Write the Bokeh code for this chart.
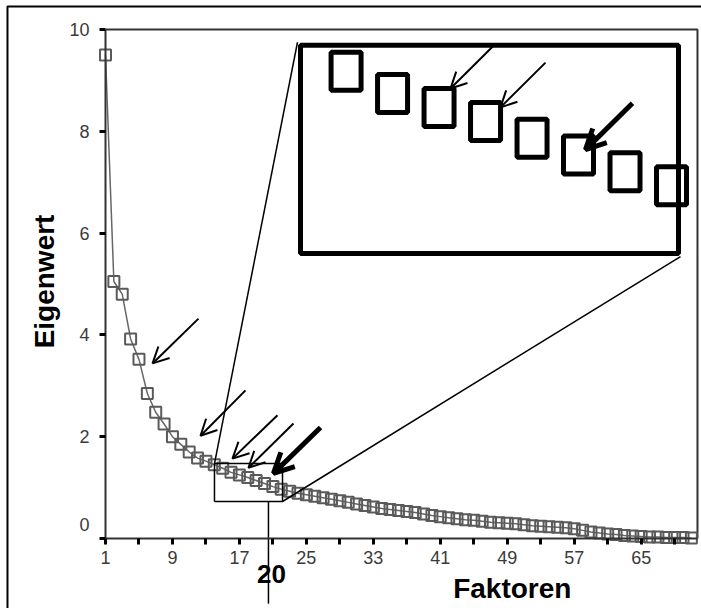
import math
from bokeh.plotting import figure
from bokeh.models import Range1d, FixedTicker, Label, Arrow, OpenHead, ColumnDataSource
from bokeh.core.properties import value
from bokeh.embed import file_html
from bokeh.resources import INLINE

# ---------------- data ----------------
FACTORS = list(range(1, 72))
EIGEN = [9.50, 5.05, 4.80, 3.92, 3.52, 2.85, 2.48, 2.25, 2.00, 1.85,
         1.70, 1.58, 1.52, 1.45, 1.38, 1.30, 1.25, 1.20, 1.14, 1.08,
         1.02, 0.97, 0.93, 0.89, 0.86, 0.83, 0.80, 0.77, 0.74, 0.71,
         0.68, 0.65, 0.62, 0.59, 0.57, 0.55, 0.53, 0.51, 0.48, 0.45,
         0.43, 0.41, 0.39, 0.37, 0.36, 0.34, 0.32, 0.31, 0.30, 0.29,
         0.27, 0.25, 0.24, 0.23, 0.22, 0.21, 0.19, 0.16, 0.13, 0.11,
         0.09, 0.08, 0.06, 0.05, 0.04, 0.03, 0.03, 0.02, 0.02, 0.02, 0.01]
X_TICKS = [1, 9, 17, 25, 33, 41, 49, 57, 65]
X_MINOR = [5, 13, 21, 29, 37, 45, 53, 61, 69]
Y_TICKS = [0, 2, 4, 6, 8, 10]

# zoom window (data units) and inset rectangle (data units)
ZOOM_BOX = (14.02, 22.15, 0.727, 1.473)     # x0, x1, y0, y1
INSET_BOX = (24.30, 69.46, 5.60, 9.69)      # x0, x1, y0, y1
MARK_X = 20.47                              # vertical marker line at "20"

# arrows: (x_tail, y_tail, x_head, y_head, thick)
ARROWS = [
    (12.11, 4.32, 6.62, 3.44, False),
    (17.73, 2.91, 12.35, 2.02, False),
    (21.55, 2.42, 16.17, 1.57, False),
    (23.46, 2.26, 18.08, 1.39, False),
    (26.69, 2.18, 21.07, 1.28, True),
    (47.60, 9.72, 42.22, 8.84, False),
    (53.57, 9.35, 48.19, 8.47, False),
    (63.96, 8.55, 58.35, 7.64, True),
]

FONT = "Liberation Sans"

# ---------------- figure ----------------
p = figure(width=701, height=608,
           x_range=Range1d(-11.545, 72.21), y_range=Range1d(-1.375, 10.57),
           output_backend="svg", toolbar_location=None, min_border=0,
           outline_line_color=None, background_fill_color="white",
           border_fill_color="white")
p.grid.visible = False

xa = p.xaxis[0]
xa.fixed_location = 0
xa.bounds = (1, 71.73)
xa.ticker = FixedTicker(ticks=X_TICKS, minor_ticks=X_MINOR)
ya = p.yaxis[0]
ya.fixed_location = 1
ya.bounds = (0, 10)
ya.ticker = FixedTicker(ticks=Y_TICKS)
ya.major_label_overrides = {0: ""}
for ax in (xa, ya):
    ax.axis_line_color = "#333333"
    ax.axis_line_width = 2
    ax.major_tick_line_color = "black"
    ax.major_tick_line_width = 3
    ax.major_tick_out = 6
    ax.major_tick_in = 0
    ax.minor_tick_line_color = "black"
    ax.minor_tick_line_width = 3
    ax.minor_tick_out = 6
    ax.minor_tick_in = 0
    ax.major_label_text_font = FONT
    ax.major_label_text_font_size = "18px"
    ax.major_label_text_color = "#3a3a3a"
xa.major_label_standoff = 6
ya.major_label_standoff = 10
ya.minor_tick_line_color = None

# outer border (left and top visible)
p.line([-10.71, -10.71, 75], [-2, 10.45, 10.45], line_color="black", line_width=2)
# plot frame top and right
p.line([1, 71.73, 71.73], [10, 10, 0], line_color="#333333", line_width=2)

# scree line + squares
src = ColumnDataSource(dict(x=FACTORS, y=EIGEN))
p.line("x", "y", source=src, line_color="#666666", line_width=1.5)
p.scatter("x", "y", source=src, marker="square", size=11, fill_color=None,
          line_color="#5a5a5a", line_width=2)

# zoom box and marker line
bx0, bx1, by0, by1 = ZOOM_BOX
ix0, ix1, iy0, iy1 = INSET_BOX
p.line([bx0, bx1, bx1, bx0, bx0], [by0, by0, by1, by1, by0], line_color="black", line_width=1.5)
p.line([MARK_X, MARK_X], [by0, -1.28], line_color="black", line_width=1.5)
# connectors
p.line([bx0, ix0 - 0.36], [by1, iy1 + 0.06], line_color="black", line_width=1.5)
p.line([bx1, ix1 + 0.24], [by0, iy0 - 0.06], line_color="black", line_width=1.5)

# inset
p.quad(left=ix0, right=ix1, bottom=iy0, top=iy1, fill_color="white",
       line_color="black", line_width=5)
ins_x, ins_y = [], []
for f, e in zip(FACTORS, EIGEN):
    if bx0 <= f <= bx1 and by0 <= e <= by1:
        ins_x.append(ix0 + (f - bx0) / (bx1 - bx0) * (ix1 - ix0))
        ins_y.append(iy0 + (e - by0) / (by1 - by0) * (iy1 - iy0))
p.rect(ins_x, ins_y, width=30, height=38, width_units="screen", height_units="screen",
       fill_color=None, line_color="black", line_width=5)

# arrows
for xs, ys, xe, ye, thick in ARROWS:
    lw = 5 if thick else 2
    p.add_layout(Arrow(end=OpenHead(size=20 if thick else 16, line_width=lw, line_color="black"),
                       x_start=xs, y_start=ys, x_end=xe, y_end=ye,
                       line_width=lw, line_color="black"))

# texts
p.add_layout(Label(x=-0.9, y=0.28, text="0", text_align="right", text_baseline="middle",
                   text_font=FONT, text_font_size="18px", text_color="#3a3a3a"))
p.add_layout(Label(x=-6.3, y=5.05, text="Eigenwert", angle=math.pi / 2,
                   text_align="center", text_baseline="alphabetic",
                   text_font=FONT, text_font_size="28px", text_font_style="bold",
                   text_color="black"))
p.add_layout(Label(x=49.6, y=-0.98, text="Faktoren", text_align="center",
                   text_baseline="alphabetic", text_font=FONT, text_font_size="28px",
                   text_font_style="bold", text_color="black"))
p.add_layout(Label(x=20.83, y=-0.70, text="20", text_align="center",
                   text_baseline="alphabetic", text_font=FONT, text_font_size="26px",
                   text_font_style="bold", text_color="black"))

open("out.html", "w").write(file_html(p, INLINE))
